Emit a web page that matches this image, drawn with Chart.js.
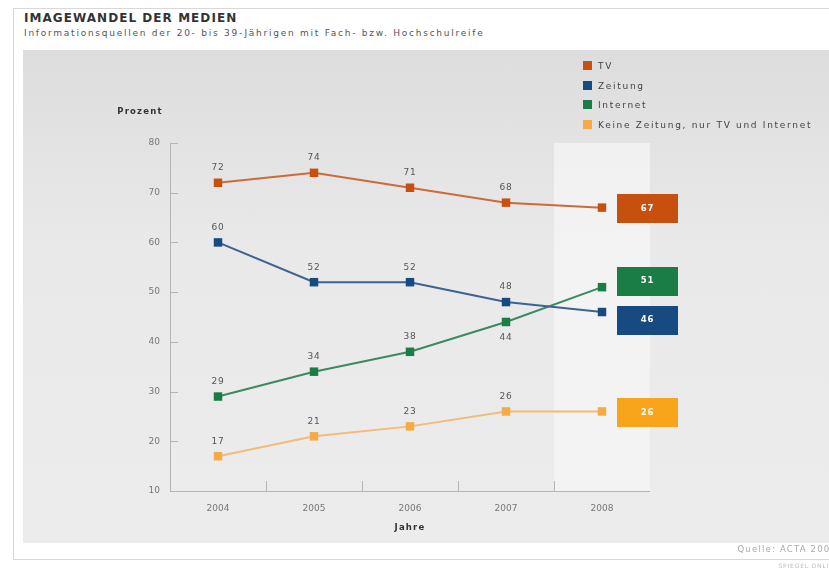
<!DOCTYPE html>
<html lang="de">
<head>
<meta charset="utf-8">
<title>Imagewandel der Medien</title>
<script src="https://cdn.jsdelivr.net/npm/chart.js@4.4.1/dist/chart.umd.min.js"></script>
<style>
    html, body { margin: 0; padding: 0; background: #ffffff; }
    body { width: 829px; height: 573px; position: relative; overflow: hidden; font-family: "DejaVu Sans", Verdana, sans-serif; }
    .frame { position: absolute; left: 13px; top: 8px; width: 830px; height: 552px; border: 1px solid #d8d8d8; box-sizing: border-box; }
    .title { position: absolute; left: 24px; top: 11px; font-size: 12px; font-weight: bold; color: #333; letter-spacing: 1.05px; }
    .subtitle { position: absolute; left: 24px; top: 28px; font-size: 9px; color: #555; letter-spacing: 1.75px; }
    .panel { position: absolute; left: 23px; top: 50px; width: 806px; height: 493px; background: linear-gradient(#dddddd, #e9e9e9 40%, #ececec); }
    .chart-box { position: absolute; left: 14px; top: 52px; width: 815px; height: 493px; }
    .legend { position: absolute; left: 583px; top: 61px; font-size: 9px; color: #444; letter-spacing: 1.7px; }
    .legend div { height: 19.7px; display: flex; align-items: flex-start; }
    .legend span.sw { display: inline-block; width: 9px; height: 9px; margin-right: 6px; }
    .source { position: absolute; right: -8px; top: 544px; font-size: 8.5px; color: #aaa; letter-spacing: 1.2px; }
    .brand { position: absolute; right: -10px; top: 562px; font-size: 6px; color: #bbb; letter-spacing: 0.8px; }
</style>
</head>
<body>
<div class="frame"></div>
<div class="title">IMAGEWANDEL DER MEDIEN</div>
<div class="subtitle">Informationsquellen der 20- bis 39-Jährigen mit Fach- bzw. Hochschulreife</div>
<div class="panel"></div>
<div class="chart-box"><canvas id="chart"></canvas></div>
<div class="legend" id="legend"></div>
<div class="source">Quelle: ACTA 2008</div>
<div class="brand">SPIEGEL ONLINE</div>

<script>
const YEARS = ['2004', '2005', '2006', '2007', '2008'];
const TV = [72, 74, 71, 68, 67];
const ZEITUNG = [60, 52, 52, 48, 46];
const INTERNET = [29, 34, 38, 44, 51];
const KEINE_ZEITUNG = [17, 21, 23, 26, 26];
const Y_TICKS = [10, 20, 30, 40, 50, 60, 70, 80];

const ORANGE = '#c8500f';
const NAVY = '#174a80';
const GREEN = '#1a7d45';
const LIGHT_ORANGE = '#f6aa45';
const AMBER = '#f8a51c';
const TICK = '#777777';

const series = [
    { label: 'TV', data: TV, color: ORANGE, line: '#cd6a3a', box: ORANGE },
    { label: 'Zeitung', data: ZEITUNG, color: NAVY, line: '#3c6390', box: NAVY },
    { label: 'Internet', data: INTERNET, color: GREEN, line: '#3b8a5e', box: GREEN },
    { label: 'Keine Zeitung, nur TV und Internet', data: KEINE_ZEITUNG, color: LIGHT_ORANGE, line: '#f4bb78', box: AMBER },
];

// labels that sit under the marker instead of above it
const LABEL_BELOW = { 2: [3] };

const legend = document.getElementById('legend');
series.forEach((s) => {
    const row = document.createElement('div');
    row.innerHTML = `<span class="sw" style="background:${s.color}"></span>${s.label}`;
    legend.appendChild(row);
});

// lighter column behind the latest year
const highlightBand = {
    id: 'highlightBand',
    beforeDatasetsDraw(chart) {
        const { ctx, chartArea, scales: { x } } = chart;
        const half = (x.getPixelForValue(1) - x.getPixelForValue(0)) / 2;
        const left = x.getPixelForValue(YEARS.length - 1) - half;
        ctx.save();
        ctx.fillStyle = 'rgba(246, 246, 246, 0.75)';
        ctx.fillRect(left, chartArea.top, chartArea.right - left, chartArea.bottom - chartArea.top);
        ctx.restore();
    },
};

// axis lines, inner tick marks and axis titles
const axisDecor = {
    id: 'axisDecor',
    beforeDatasetsDraw(chart) {
        const { ctx, chartArea, scales: { x, y } } = chart;
        ctx.save();
        ctx.strokeStyle = '#b5b5b5';
        ctx.lineWidth = 1;
        ctx.beginPath();
        ctx.moveTo(chartArea.left + 0.5, chartArea.top);
        ctx.lineTo(chartArea.left + 0.5, chartArea.bottom + 0.5);
        ctx.lineTo(chartArea.right, chartArea.bottom + 0.5);
        Y_TICKS.forEach((v) => {
            const py = Math.round(y.getPixelForValue(v)) + 0.5;
            ctx.moveTo(chartArea.left, py);
            ctx.lineTo(chartArea.left + 8, py);
        });
        const half = (x.getPixelForValue(1) - x.getPixelForValue(0)) / 2;
        for (let i = 0; i < YEARS.length - 1; i++) {
            const px = Math.round(x.getPixelForValue(i) + half) + 0.5;
            ctx.moveTo(px, chartArea.bottom);
            ctx.lineTo(px, chartArea.bottom - 10);
        }
        ctx.stroke();

        ctx.fillStyle = '#333';
        ctx.font = 'bold 8.5px "DejaVu Sans"';
        ctx.letterSpacing = '1.2px';
        ctx.textAlign = 'center';
        ctx.textBaseline = 'middle';
        ctx.fillText('Prozent', chartArea.left - 30, chartArea.top - 31);
        ctx.fillText('Jahre', x.getPixelForValue(2), chartArea.bottom + 37);
        ctx.restore();
    },
};

// value labels over the points and coloured boxes for the last year
const valueLabels = {
    id: 'valueLabels',
    afterDatasetsDraw(chart) {
        const { ctx, scales: { x, y } } = chart;
        const last = YEARS.length - 1;
        ctx.save();
        ctx.font = '9px "DejaVu Sans"';
        ctx.letterSpacing = '0.8px';
        ctx.fillStyle = '#555';
        ctx.textAlign = 'center';
        ctx.textBaseline = 'middle';
        series.forEach((s, si) => {
            s.data.forEach((v, i) => {
                if (i === last) return;
                const below = (LABEL_BELOW[si] || []).includes(i);
                const px = x.getPixelForValue(i);
                const py = y.getPixelForValue(v) + (below ? 16 : -15);
                ctx.fillText(String(v), px, py);
            });
        });

        // stack boxes so they never overlap
        const boxH = 29;
        const boxes = series.map((s) => ({ s, cy: y.getPixelForValue(s.data[last]) }))
            .sort((a, b) => a.cy - b.cy);
        for (let i = 1; i < boxes.length; i++) {
            const gap = boxes[i].cy - boxes[i - 1].cy;
            if (gap < boxH + 10) {
                const push = (boxH + 10 - gap) / 2;
                boxes[i - 1].cy -= push;
                boxes[i].cy += push;
            }
        }
        const left = x.getPixelForValue(last) + 15;
        ctx.font = 'bold 8.5px "DejaVu Sans"';
        boxes.forEach((b) => {
            ctx.fillStyle = b.s.box;
            ctx.fillRect(left, Math.round(b.cy - boxH / 2) + 1, 61, boxH);
            ctx.fillStyle = '#ffffff';
            ctx.fillText(String(b.s.data[last]), left + 30.5, b.cy + 1);
        });
        ctx.restore();
    },
};

new Chart(document.getElementById('chart'), {
    type: 'line',
    data: {
        labels: YEARS,
        datasets: series.map((s) => ({
            label: s.label,
            data: s.data,
            borderColor: s.line,
            backgroundColor: s.color,
            borderWidth: 2,
            pointStyle: 'rect',
            pointRadius: 6,
            pointBorderWidth: 0,
            pointBackgroundColor: s.color,
            tension: 0,
        })),
    },
    options: {
        responsive: true,
        maintainAspectRatio: false,
        animation: false,
        layout: { padding: { top: 91, right: 179, left: 0, bottom: 0 } },
        plugins: { legend: { display: false }, tooltip: { enabled: false } },
        scales: {
            x: {
                type: 'category',
                offset: true,
                border: { display: false },
                grid: { display: false, drawTicks: false },
                ticks: { color: TICK, font: { family: 'DejaVu Sans', size: 9 }, padding: 12 },
                afterFit(scale) { scale.height = 54; },
            },
            y: {
                min: 10,
                max: 80,
                border: { display: false },
                grid: { display: false, drawTicks: false },
                ticks: { stepSize: 10, color: TICK, font: { family: 'DejaVu Sans', size: 9 }, padding: 10 },
                afterFit(scale) { scale.width = 156; },
            },
        },
    },
    plugins: [highlightBand, axisDecor, valueLabels],
});
</script>
</body>
</html>
